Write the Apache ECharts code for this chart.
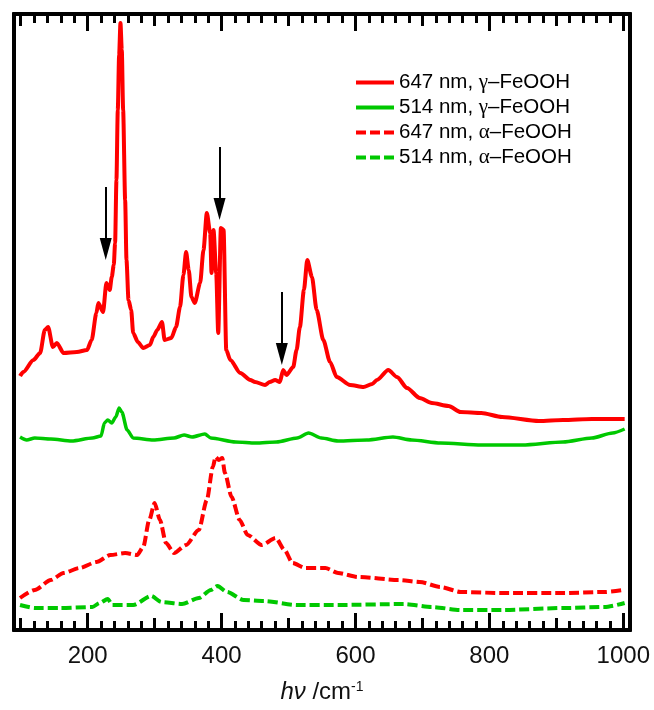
<!DOCTYPE html>
<html>
<head>
<meta charset="utf-8">
<script src="https://cdn.jsdelivr.net/npm/echarts@6/dist/echarts.min.js"></script>
<style>
  html, body { margin: 0; padding: 0; background: #fff; }
  #chart { width: 654px; height: 710px; }
</style>
</head>
<body>
<div id="chart"></div>
<script>
// Raman shift (cm-1) vs intensity (arbitrary, offset traces)
const red647Gamma = [[99,254],[104,258],[119,270],[129,277],[136,300],[141,303],[148,283],[154,287],[164,277],[184,278],[199,280],[206,290],[213,317],[216,327],[223,318],[228,347],[233,340],[236,353],[239,365],[241,387],[243,450],[245,520],[247,575],[249,607],[251,580],[253,520],[256,430],[258,370],[261,330],[265,320],[268,297],[275,288],[283,282],[293,285],[298,293],[304,300],[311,308],[315,290],[325,292],[332,303],[338,323],[343,355],[347,378],[351,360],[355,333],[360,327],[368,347],[373,380],[378,417],[383,397],[385,357],[388,400],[392,357],[395,297],[399,402],[403,400],[407,280],[413,270],[428,257],[443,250],[450,248],[465,245],[472,248],[480,250],[487,248],[492,260],[497,255],[507,263],[512,280],[517,303],[523,340],[528,370],[535,353],[542,320],[552,290],[562,268],[572,253],[592,245],[612,243],[625,246],[632,250],[649,260],[662,253],[677,242],[696,232],[714,227],[739,224],[757,218],[788,217],[819,213],[874,209],[910,210],[953,211],[1002,211]];
const green514Gamma = [[99,193],[109,190],[121,192],[145,191],[176,189],[207,192],[220,194],[225,207],[230,210],[236,207],[242,213],[247,222],[251,218],[259,200],[268,192],[298,190],[329,192],[344,195],[356,193],[375,196],[384,192],[421,188],[451,187],[482,188],[513,192],[530,197],[549,192],[574,189],[617,190],[656,193],[684,190],[727,187],[788,185],[849,185],[910,188],[953,192],[984,197],[1002,201]];
const red647Alpha = [[99,32],[121,40],[145,50],[164,57],[188,62],[213,68],[234,75],[256,77],[274,75],[283,83],[292,110],[300,127],[308,110],[317,87],[329,77],[347,85],[366,100],[378,130],[387,163],[391,173],[396,170],[401,172],[405,157],[415,133],[427,110],[439,95],[460,85],[481,92],[494,80],[506,67],[525,62],[555,62],[574,57],[604,53],[665,50],[696,48],[727,43],[757,38],[819,37],[910,37],[972,38],[999,40]];
const green514Alpha = [[99,25],[121,22],[158,22],[207,23],[218,27],[230,31],[237,25],[268,25],[295,34],[310,28],[341,26],[366,32],[384,40],[394,44],[408,38],[433,30],[463,29],[513,25],[574,25],[672,26],[714,23],[757,20],[819,20],[910,22],[972,23],[1002,27]];

// arrows: [x, yStart, yHead]
const arrows = [[227,443,381],[397,483,421],[490,338,276]];

const majorTicks = [200,400,600,800,1000];
const midTicks = [100,300,500,700,900];
const minorTicks = [120,140,160,180,220,240,260,280,320,340,360,380,420,440,460,480,520,540,560,580,620,640,660,680,720,740,760,780,820,840,860,880,920,940,960,980];

const names = ['647 nm, γ–FeOOH', '514 nm, γ–FeOOH', '647 nm, α–FeOOH', '514 nm, α–FeOOH'];
const RED = '#ff0000', GREEN = '#00c800';
const SOLID_ICON = 'path://M0,0h38v4h-38z';
const DASH_ICON = 'path://M0,0h10v4h-10z M14,0h10v4h-10z M28,0h10v4h-10z';

const chart = echarts.init(document.getElementById('chart'));

function tickAxis(position, ticks, len, withLabel) {
  return {
    type: 'value', position: position, min: 90, max: 1010,
    axisLine: { show: true, lineStyle: { color: '#000', width: 4 } },
    axisTick: { show: true, inside: true, length: len, customValues: ticks,
      lineStyle: { color: '#000', width: 3 } },
    axisLabel: withLabel ? {
      show: true, customValues: ticks, margin: 14, formatter: v => String(v),
      fontFamily: 'Liberation Sans', fontSize: 24, color: '#111'
    } : { show: false },
    splitLine: { show: false }
  };
}

const bottomMain = tickAxis('bottom', majorTicks, 17, true);
bottomMain.name = '{i|hν}{n| /cm}{s|-1}';
bottomMain.nameLocation = 'middle';
bottomMain.nameGap = 50;
bottomMain.nameTextStyle = {
  rich: {
    i: { fontFamily: 'Liberation Sans', fontStyle: 'italic', fontSize: 24, color: '#111' },
    n: { fontFamily: 'Liberation Sans', fontSize: 24, color: '#111' },
    s: { fontFamily: 'Liberation Sans', fontSize: 14, color: '#111', verticalAlign: 'top', lineHeight: 24 }
  }
};

const arrowLines = arrows.map(a => [{ coord: [a[0], a[1]] }, { coord: [a[0], a[2]] }]);
const arrowHeads = arrows.map(a => [a[0], a[2]]);

chart.setOption({
  animation: false,
  backgroundColor: '#fff',
  grid: { left: 14, right: 24, top: 14, bottom: 80 },
  legend: {
    orient: 'vertical', left: 351, top: 67,
    itemWidth: 38, itemHeight: 4, itemGap: 4,
    data: [
      { name: names[0], icon: SOLID_ICON },
      { name: names[1], icon: SOLID_ICON },
      { name: names[2], icon: DASH_ICON },
      { name: names[3], icon: DASH_ICON }
    ],
    formatter: n => n.replace(/([γα])/, '{g|$1}'),
    textStyle: {
      fontFamily: 'Liberation Sans', fontSize: 20.5, lineHeight: 21, color: '#000',
      rich: { g: { fontFamily: 'Liberation Serif', fontSize: 21, color: '#000' } }
    }
  },
  xAxis: [
    bottomMain,
    tickAxis('bottom', midTicks, 12, false),
    tickAxis('bottom', minorTicks, 9, false),
    tickAxis('top', majorTicks, 17, false),
    tickAxis('top', midTicks, 12, false),
    tickAxis('top', minorTicks, 9, false)
  ],
  yAxis: [
    { type: 'value', position: 'left', min: 0, max: 616, interval: 4,
      axisLine: { show: true, lineStyle: { color: '#000', width: 4 } },
      axisTick: { show: true, inside: true, length: 2, lineStyle: { color: '#000', width: 2 } },
      axisLabel: { show: false }, splitLine: { show: false } },
    { type: 'value', position: 'right', min: 0, max: 616,
      axisLine: { show: true, lineStyle: { color: '#000', width: 4 } },
      axisTick: { show: false }, axisLabel: { show: false }, splitLine: { show: false } }
  ],
  series: [
    { name: names[0], type: 'line', data: red647Gamma, symbol: 'none', smooth: 0.25, smoothMonotone: 'x',
      lineStyle: { color: RED, width: 4 }, itemStyle: { color: RED },
      markLine: {
        silent: true, animation: false, symbol: ['none', 'none'],
        label: { show: false },
        lineStyle: { color: '#000', width: 2, type: 'solid', opacity: 1 },
        data: arrowLines
      } },
    { name: names[1], type: 'line', data: green514Gamma, symbol: 'none', smooth: 0.25, smoothMonotone: 'x',
      lineStyle: { color: GREEN, width: 3.5 }, itemStyle: { color: GREEN } },
    { name: names[2], type: 'line', data: red647Alpha, symbol: 'none', smooth: 0.25, smoothMonotone: 'x',
      lineStyle: { color: RED, width: 4, type: [10, 4] }, itemStyle: { color: RED } },
    { name: names[3], type: 'line', data: green514Alpha, symbol: 'none', smooth: 0.25, smoothMonotone: 'x',
      lineStyle: { color: GREEN, width: 4, type: [10, 4] }, itemStyle: { color: GREEN } },
    { name: 'arrowheads', type: 'scatter', data: arrowHeads, silent: true, z: 5,
      symbol: 'path://M0,0 L12,0 L6,22 Z', symbolSize: [12, 22],
      itemStyle: { color: '#000', opacity: 1 } }
  ]
});
</script>
</body>
</html>
